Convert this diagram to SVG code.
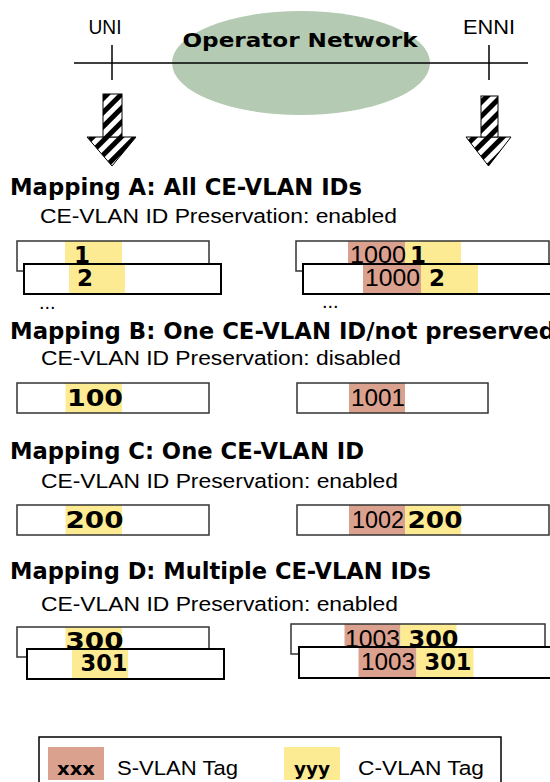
<svg xmlns="http://www.w3.org/2000/svg" width="550" height="782" viewBox="0 0 550 782">
<style>
.b{font-family:"DejaVu Sans",sans-serif;font-weight:bold;fill:#000}
.r{font-family:"Liberation Sans",Arial,sans-serif;fill:#000}
.ttl{font-size:22.5px}
.sub{font-size:19.5px}
.num{font-size:23px}
.wf{fill:#fff;stroke:none}
.bk{fill:none;stroke:#333;stroke-width:1.5}
.fr{fill:none;stroke:#000;stroke-width:2}
.y{fill:#fdeb94}
.s{fill:#dba18f}
.ln{stroke:#000;stroke-width:1.5;fill:none}
.arr{fill:url(#hatch);stroke:#000;stroke-width:1}
</style>
<defs>
<pattern id="hatch" width="10" height="10" patternUnits="userSpaceOnUse" patternTransform="rotate(45)">
<rect width="10" height="10" fill="#fff"/>
<rect width="5" height="10" fill="#000"/>
</pattern>
</defs>
<rect width="550" height="782" fill="#fff"/>

<g id="network">
<ellipse cx="301" cy="63" rx="129" ry="52" fill="#b5cab3"/>
<text class="b" x="300" y="47" font-size="20" text-anchor="middle" textLength="235" lengthAdjust="spacingAndGlyphs">Operator Network</text>
</g>

<g id="connectors">
<line class="ln" x1="74" y1="63" x2="528" y2="63"/>
<line class="ln" x1="112" y1="45" x2="112" y2="80"/>
<line class="ln" x1="489" y1="45" x2="489" y2="80"/>
<polygon class="arr" points="87,137 136,137 112,166"/>
<rect class="arr" x="103" y="94" width="19" height="43"/>
<polygon class="arr" points="466,137 511,137 488.5,166"/>
<rect class="arr" x="481" y="96" width="17" height="41"/>
</g>

<g id="uni"><text class="r" x="105" y="34" font-size="20.5" text-anchor="middle" textLength="33" lengthAdjust="spacingAndGlyphs">UNI</text></g>
<g id="enni"><text class="r" x="489" y="34" font-size="20.5" text-anchor="middle" textLength="52" lengthAdjust="spacingAndGlyphs">ENNI</text></g>

<g id="mappingA">
<text class="b ttl" x="10" y="195" textLength="352" lengthAdjust="spacingAndGlyphs">Mapping A: All CE-VLAN IDs</text>
<text class="r sub" x="40" y="223" textLength="357" lengthAdjust="spacingAndGlyphs">CE-VLAN ID Preservation: enabled</text>
<rect class="wf" x="17" y="241" width="192" height="30"/>
<rect class="y" x="65" y="241" width="57" height="30"/>
<text class="b num" x="74" y="263">1</text>
<rect class="bk" x="17" y="241" width="192" height="30"/>
<rect class="wf" x="24" y="264" width="197" height="30"/>
<rect class="y" x="69" y="264" width="56" height="30"/>
<text class="b num" x="77" y="286">2</text>
<rect class="fr" x="24" y="264" width="197" height="30"/>
<text class="r" x="39" y="309" font-size="20">...</text>

<rect class="wf" x="296" y="241" width="253" height="30"/>
<rect class="s" x="348" y="241" width="57" height="30"/>
<rect class="y" x="405" y="241" width="56" height="30"/>
<text class="r num" x="350" y="263" textLength="56" lengthAdjust="spacingAndGlyphs">1000</text>
<text class="b num" x="410" y="263">1</text>
<rect class="bk" x="296" y="241" width="253" height="30"/>
<rect class="wf" x="303" y="264" width="260" height="30"/>
<rect class="s" x="363" y="264" width="58" height="30"/>
<rect class="y" x="421" y="264" width="57" height="30"/>
<text class="r num" x="365" y="286" textLength="55" lengthAdjust="spacingAndGlyphs">1000</text>
<text class="b num" x="429" y="286">2</text>
<rect class="fr" x="303" y="264" width="260" height="30"/>
<text class="r" x="322" y="308" font-size="20">...</text>
</g>

<g id="mappingB">
<text class="b ttl" x="10" y="339" textLength="545" lengthAdjust="spacingAndGlyphs">Mapping B: One CE-VLAN ID/not preserved</text>
<text class="r sub" x="41" y="365" textLength="360" lengthAdjust="spacingAndGlyphs">CE-VLAN ID Preservation: disabled</text>
<rect class="wf" x="17" y="383" width="192" height="30"/>
<rect class="y" x="65.5" y="383" width="56.5" height="30"/>
<text class="b num" x="67" y="406" textLength="56" lengthAdjust="spacingAndGlyphs">100</text>
<rect class="bk" x="17" y="383" width="192" height="30"/>
<rect class="wf" x="297" y="383" width="191" height="30"/>
<rect class="s" x="349" y="383" width="56" height="30"/>
<text class="r num" x="351" y="406" textLength="54" lengthAdjust="spacingAndGlyphs">1001</text>
<rect class="bk" x="297" y="383" width="191" height="30"/>
</g>

<g id="mappingC">
<text class="b ttl" x="10" y="459" textLength="354" lengthAdjust="spacingAndGlyphs">Mapping C: One CE-VLAN ID</text>
<text class="r sub" x="41" y="488" textLength="357" lengthAdjust="spacingAndGlyphs">CE-VLAN ID Preservation: enabled</text>
<rect class="wf" x="17" y="505" width="192" height="30"/>
<rect class="y" x="65.5" y="505" width="56.5" height="30"/>
<text class="b num" x="65.5" y="528" textLength="58" lengthAdjust="spacingAndGlyphs">200</text>
<rect class="bk" x="17" y="505" width="192" height="30"/>
<rect class="wf" x="297" y="505" width="252" height="30"/>
<rect class="s" x="349" y="505" width="56" height="30"/>
<rect class="y" x="405" y="505" width="56" height="30"/>
<text class="r num" x="352" y="528" textLength="52" lengthAdjust="spacingAndGlyphs">1002</text>
<text class="b num" x="407.5" y="528" textLength="55" lengthAdjust="spacingAndGlyphs">200</text>
<rect class="bk" x="297" y="505" width="252" height="30"/>
</g>

<g id="mappingD">
<text class="b ttl" x="10" y="579" textLength="421" lengthAdjust="spacingAndGlyphs">Mapping D: Multiple CE-VLAN IDs</text>
<text class="r sub" x="41" y="611" textLength="357" lengthAdjust="spacingAndGlyphs">CE-VLAN ID Preservation: enabled</text>
<rect class="wf" x="17" y="627" width="192" height="30"/>
<rect class="y" x="65.5" y="627" width="56.5" height="30"/>
<text class="b num" x="65.5" y="649" textLength="58" lengthAdjust="spacingAndGlyphs">300</text>
<rect class="bk" x="17" y="627" width="192" height="30"/>
<rect class="wf" x="27" y="649" width="197" height="30"/>
<rect class="y" x="72" y="649" width="56" height="30"/>
<text class="b num" x="80.5" y="671" textLength="47" lengthAdjust="spacingAndGlyphs">301</text>
<rect class="fr" x="27" y="649" width="197" height="30"/>

<rect class="wf" x="291" y="624" width="254" height="30"/>
<rect class="s" x="344.5" y="624" width="56" height="30"/>
<rect class="y" x="400.5" y="624" width="56" height="30"/>
<text class="r num" x="345" y="647" textLength="55" lengthAdjust="spacingAndGlyphs">1003</text>
<text class="b num" x="408.5" y="647" textLength="50" lengthAdjust="spacingAndGlyphs">300</text>
<rect class="bk" x="291" y="624" width="254" height="30"/>
<rect class="wf" x="299" y="647" width="262" height="31"/>
<rect class="s" x="358.5" y="647" width="58" height="31"/>
<rect class="y" x="416.5" y="647" width="57" height="31"/>
<text class="r num" x="361" y="670" textLength="54" lengthAdjust="spacingAndGlyphs">1003</text>
<text class="b num" x="424.5" y="670" textLength="47" lengthAdjust="spacingAndGlyphs">301</text>
<rect class="fr" x="299" y="647" width="262" height="31"/>
</g>

<g id="legend">
<rect x="39" y="737" width="462" height="60" fill="#fff" stroke="#000" stroke-width="1.5"/>
<rect class="s" x="48" y="747" width="56" height="33"/>
<text class="b" x="57" y="775" font-size="17" textLength="38" lengthAdjust="spacingAndGlyphs">xxx</text>
<text class="r" x="117" y="775" font-size="20.5" textLength="121" lengthAdjust="spacingAndGlyphs">S-VLAN Tag</text>
<rect class="y" x="284" y="747" width="56" height="33"/>
<text class="b" x="294" y="775" font-size="17" textLength="36" lengthAdjust="spacingAndGlyphs">yyy</text>
<text class="r" x="358" y="775" font-size="20.5" textLength="126" lengthAdjust="spacingAndGlyphs">C-VLAN Tag</text>
</g>
</svg>
